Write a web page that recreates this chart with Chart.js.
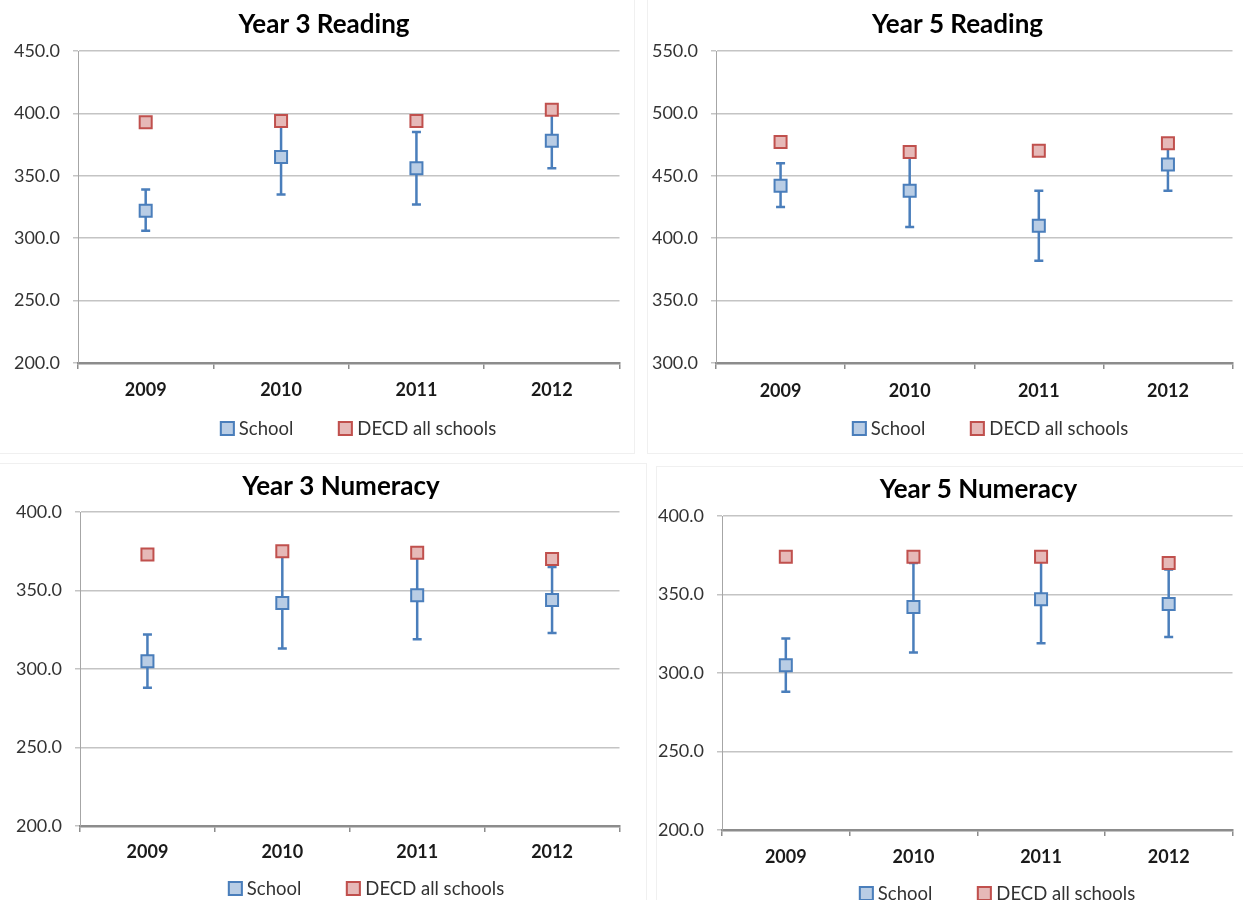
<!DOCTYPE html>
<html>
<head>
<meta charset="utf-8">
<title>NAPLAN results</title>
<script src="https://cdn.jsdelivr.net/npm/chart.js@4.4.1/dist/chart.umd.min.js"></script>
<style>
  html, body { margin: 0; padding: 0; background: #fff; overflow: hidden; width: 1243px; height: 900px; }
  .box { position: absolute; }
  .box canvas { display: block; }
  .frame { position: absolute; border: 0 solid #f0f0f0; }
  .legend {
    position: absolute; transform: translateX(-50%);
    display: flex; align-items: center; white-space: nowrap;
    font-family: Lato, "Open Sans", sans-serif; font-size: 18.5px; color: #333;
    height: 22px; line-height: 22px;
  }
  .legend .item { display: flex; align-items: center; }
  .legend .item + .item { margin-left: 45px; }
  .legend .sw { width: 11px; height: 11px; border: 2px solid; margin-right: 4px; }
</style>
</head>
<body>
<!-- faint chart frames like the Excel export -->
<div class="frame" style="left:0;top:0;width:634px;height:453px;border-right-width:1px;border-bottom-width:1px"></div>
<div class="frame" style="left:647px;top:0;width:600px;height:453px;border-left-width:1px;border-bottom-width:1px"></div>
<div class="frame" style="left:0;top:463px;width:646px;height:440px;border-top-width:1px;border-right-width:1px"></div>
<div class="frame" style="left:656px;top:466px;width:600px;height:440px;border-top-width:1px;border-left-width:1px"></div>

<div class="box" style="left:0;top:0"><canvas id="c1" width="630" height="450"></canvas></div>
<div class="box" style="left:640px;top:0"><canvas id="c2" width="603" height="450"></canvas></div>
<div class="box" style="left:0;top:450px"><canvas id="c3" width="630" height="460"></canvas></div>
<div class="box" style="left:645px;top:450px"><canvas id="c4" width="598" height="470"></canvas></div>

<script>
// --- données ---
const years = ["2009", "2010", "2011", "2012"];
const seriesNames = ["School", "DECD all schools"];

// Year 3 Reading
const read3School = [322, 365, 356, 378];
const read3Low = [306, 335, 327, 356];
const read3High = [339, 395, 385, 400];
const read3Decd = [393, 394, 394, 403];

// Year 5 Reading
const read5School = [442, 438, 410, 459];
const read5Low = [425, 409, 382, 438];
const read5High = [460, 467, 438, 480];
const read5Decd = [477, 469, 470, 476];

// Year 3 Numeracy
const num3School = [305, 342, 347, 344];
const num3Low = [288, 313, 319, 323];
const num3High = [322, 372, 376, 365];
const num3Decd = [373, 375, 374, 370];

// Year 5 Numeracy
const num5School = [305, 342, 347, 344];
const num5Low = [288, 313, 319, 323];
const num5High = [322, 370, 375, 366];
const num5Decd = [374, 374, 374, 370];

Chart.defaults.font.family = "Lato, 'Open Sans', sans-serif";

const schoolFill = "#b9cde5", schoolLine = "#4a7ebb";
const decdFill = "#e6b9b8", decdLine = "#c0504d";

// barres d'erreur dessinées sous les marqueurs
const errorBarPlugin = {
    id: "errorBars",
    beforeDatasetsDraw(chart, args, opts) {
        const { ctx } = chart;
        const x = chart.scales.x, y = chart.scales.y;
        ctx.save();
        ctx.strokeStyle = opts.color;
        ctx.lineWidth = 2.5;
        opts.low.forEach((lo, i) => {
            const px = x.getPixelForValue(i);
            const yLo = y.getPixelForValue(lo);
            const yHi = y.getPixelForValue(opts.high[i]);
            ctx.beginPath();
            ctx.moveTo(px, yHi); ctx.lineTo(px, yLo);
            ctx.moveTo(px - 4.5, yHi); ctx.lineTo(px + 4.5, yHi);
            ctx.moveTo(px - 4.5, yLo); ctx.lineTo(px + 4.5, yLo);
            ctx.stroke();
        });
        ctx.restore();
    }
};

// petit décalage horizontal du titre (centré sur tout le graphique Excel)
const titleShiftPlugin = {
    id: "titleShift",
    afterLayout(chart, args, opts) {
        if (chart.titleBlock && opts.shift) {
            chart.titleBlock.left += opts.shift;
            chart.titleBlock.right += opts.shift;
        }
    }
};

// légende HTML construite à partir des jeux de données
function htmlLegend(chart, cx, cy) {
    const div = document.createElement("div");
    div.className = "legend";
    div.style.left = cx + "px";
    div.style.top = (cy - 11) + "px";
    chart.data.datasets.forEach(ds => {
        const item = document.createElement("span");
        item.className = "item";
        const sw = document.createElement("span");
        sw.className = "sw";
        sw.style.background = ds.pointBackgroundColor;
        sw.style.borderColor = ds.pointBorderColor;
        item.appendChild(sw);
        item.appendChild(document.createTextNode(ds.label));
        div.appendChild(item);
    });
    document.body.appendChild(div);
}

function makeChart(id, title, school, low, high, decd, yMin, yMax, g) {
    const pointSet = (label, data, fill, line) => ({
        label: label,
        data: data,
        showLine: false,
        pointStyle: "rect",
        pointRadius: 8.5,
        pointHoverRadius: 8.5,
        pointBorderWidth: 2,
        pointBackgroundColor: fill,
        pointBorderColor: line,
        backgroundColor: fill,
        borderColor: line
    });

    const chart = new Chart(document.getElementById(id), {
        type: "line",
        data: {
            labels: years,
            datasets: [
                pointSet(seriesNames[0], school, schoolFill, schoolLine),
                pointSet(seriesNames[1], decd, decdFill, decdLine)
            ]
        },
        plugins: [errorBarPlugin, titleShiftPlugin],
        options: {
            responsive: false,
            animation: false,
            events: [],
            layout: { padding: { left: 0, right: g.padR, top: 0, bottom: g.padB } },
            plugins: {
                errorBars: { low: low, high: high, color: schoolLine },
                titleShift: { shift: g.titleShift },
                tooltip: { enabled: false },
                legend: { display: false },
                title: {
                    display: true,
                    text: title,
                    color: "#000",
                    font: { size: 26, weight: "bold" },
                    padding: { top: g.titleTop, bottom: g.titleBottom }
                }
            },
            scales: {
                x: {
                    offset: true,
                    afterFit: s => { s.height = 40; },
                    grid: {
                        offset: true,
                        drawOnChartArea: false,
                        drawTicks: true,
                        tickLength: 6,
                        color: "#8c8c8c",
                        lineWidth: 1.5
                    },
                    border: { color: "#8c8c8c", width: 2.5 },
                    ticks: { color: "#1a1a1a", padding: g.xPad, font: { size: 18, weight: "bold" } }
                },
                y: {
                    min: yMin,
                    max: yMax,
                    afterFit: s => { s.width = g.yW; },
                    grid: { color: "#c4c4c4", lineWidth: 1.5, tickLength: 5 },
                    border: { color: "#a6a6a6", width: 1 },
                    ticks: {
                        stepSize: 50,
                        padding: 13,
                        color: "#333",
                        font: { size: 18 },
                        callback: v => v.toFixed(1)
                    }
                }
            }
        }
    });
    htmlLegend(chart, g.legX, g.legY);
    return chart;
}

// plot: c1 78..620 x 51..363 ; c2 716..1239 ; c3 80..620 x 512..826 ; c4 722..1242 x 516..830
makeChart("c1", "Year 3 Reading", read3School, read3Low, read3High, read3Decd, 200, 450,
    { yW: 78, padR: 10, padB: 47, titleTop: 9.4, titleBottom: 10.4, xPad: 10.2, titleShift: 14, legX: 358, legY: 428 });
makeChart("c2", "Year 5 Reading", read5School, read5Low, read5High, read5Decd, 300, 550,
    { yW: 76, padR: 4, padB: 47, titleTop: 9.4, titleBottom: 10.4, xPad: 11.2, titleShift: 18, legX: 990, legY: 428 });
makeChart("c3", "Year 3 Numeracy", num3School, num3Low, num3High, num3Decd, 200, 400,
    { yW: 80, padR: 10, padB: 44, titleTop: 21.4, titleBottom: 9.4, xPad: 9.2, titleShift: 31, legX: 366, legY: 888 });
makeChart("c4", "Year 5 Numeracy", num5School, num5Low, num5High, num5Decd, 200, 400,
    { yW: 77, padR: 1, padB: 50, titleTop: 24.4, titleBottom: 10.4, xPad: 10.2, titleShift: 35, legX: 997, legY: 893 });
</script>
</body>
</html>
